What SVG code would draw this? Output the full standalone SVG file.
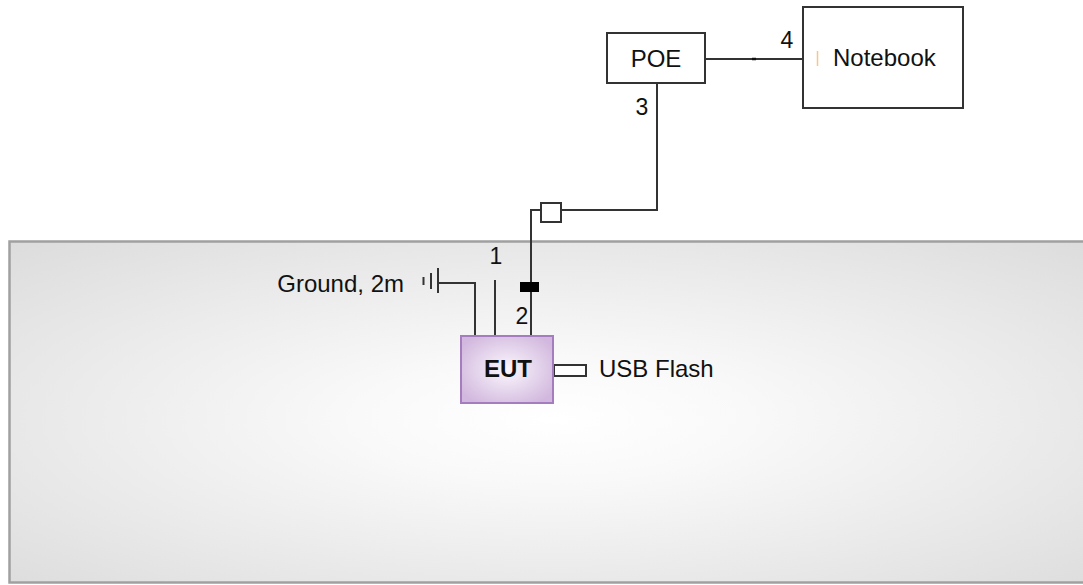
<svg xmlns="http://www.w3.org/2000/svg" width="1083" height="585" viewBox="0 0 1083 585">
  <defs>
    <radialGradient id="tableGrad" cx="0.5" cy="0.52" r="0.72">
      <stop offset="0" stop-color="#ffffff"/>
      <stop offset="0.25" stop-color="#f9f9f9"/>
      <stop offset="1" stop-color="#dcdcdc"/>
    </radialGradient>
    <radialGradient id="eutGrad" cx="0.5" cy="0.5" r="0.6">
      <stop offset="0" stop-color="#fbf7fd"/>
      <stop offset="1" stop-color="#d2b8de"/>
    </radialGradient>
    <style>
      .lbl { font-family: "Liberation Sans", Arial, sans-serif; font-size: 24px; fill: #111; }
      .num { font-family: "Liberation Sans", Arial, sans-serif; font-size: 23px; fill: #111; }
      .box { fill: #ffffff; stroke: #333; stroke-width: 2; }
      .wire { fill: none; stroke: #333; stroke-width: 2; }
    </style>
  </defs>

  <rect width="1083" height="585" fill="#ffffff"/>

  <g id="table">
    <rect x="9.5" y="241.5" width="1085" height="341" fill="url(#tableGrad)" stroke="#a0a0a0" stroke-width="2.5"/>
  </g>

  <g id="connectors">
    <!-- POE to Notebook -->
    <line class="wire" x1="705" y1="59" x2="803" y2="59"/>
    <line x1="752" y1="59" x2="756" y2="59" stroke="#111" stroke-width="2.5"/>
    <!-- POE to EUT (cable 3/2) -->
    <polyline class="wire" points="657,83 657,210 560,210"/>
    <polyline class="wire" points="541,210 531,210 531,336"/>
    <rect class="box" x="541" y="203" width="20" height="19"/>
    <rect x="520" y="282" width="19" height="10" fill="#000"/>
    <!-- cable 1 -->
    <line class="wire" x1="495" y1="280" x2="495" y2="336"/>
    <!-- ground -->
    <polyline class="wire" points="438,283 475,283 475,336"/>
    <line x1="438" y1="268" x2="438" y2="293" stroke="#333" stroke-width="2"/>
    <line x1="431" y1="273" x2="431" y2="289" stroke="#333" stroke-width="2"/>
    <line x1="423.5" y1="277" x2="423.5" y2="285" stroke="#333" stroke-width="2"/>
    <!-- USB flash -->
    <rect class="box" x="554" y="365" width="32" height="11"/>
  </g>

  <g id="poe">
    <rect class="box" x="607" y="33" width="98" height="50"/>
    <text class="lbl" x="656" y="67" text-anchor="middle">POE</text>
  </g>

  <g id="notebook">
    <rect class="box" x="803" y="7" width="160" height="101"/>
    <line x1="817.5" y1="51" x2="817.5" y2="66" stroke="#f5c88a" stroke-width="1.5"/>
    <text class="lbl" x="833" y="66">Notebook</text>
  </g>

  <g id="eut">
    <rect x="461" y="336" width="92" height="67" fill="url(#eutGrad)" stroke="#a57cbd" stroke-width="2"/>
    <text class="lbl" x="508" y="377" text-anchor="middle" font-weight="bold">EUT</text>
  </g>

  <g id="labels">
    <text class="num" x="787" y="48" text-anchor="middle">4</text>
    <text class="num" x="642" y="115" text-anchor="middle">3</text>
    <text class="num" x="496" y="264" text-anchor="middle">1</text>
    <text class="num" x="522" y="324" text-anchor="middle">2</text>
    <text class="lbl" x="404" y="292" text-anchor="end">Ground, 2m</text>
    <text class="lbl" x="599" y="377">USB Flash</text>
  </g>
</svg>
